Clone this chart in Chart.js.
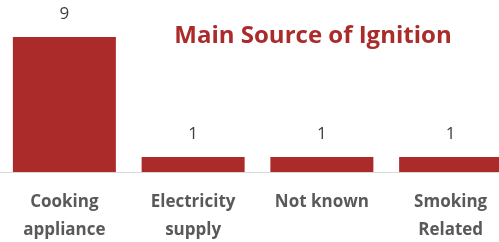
<!DOCTYPE html>
<html>
<head>
<meta charset="utf-8">
<script src="https://cdn.jsdelivr.net/npm/chart.js@4"></script>
<style>
  html, body { margin: 0; padding: 0; background: #fff; }
  #wrap { position: relative; width: 499px; height: 242px; overflow: hidden; }
  #box { position: absolute; left: 0; top: 0; width: 515px; height: 242px; }
  #title {
    position: absolute; left: 163px; top: 17px; width: 300px; text-align: center;
    font: bold 24px "Open Sans", sans-serif; color: #ab2a2a; white-space: nowrap;
  }
</style>
</head>
<body>
<div id="wrap">
  <div id="box"><canvas id="chart" width="515" height="242"></canvas></div>
  <div id="title">Main Source of Ignition</div>
</div>
<script>
const categories = [['Cooking', 'appliance'], ['Electricity', 'supply'], 'Not known', ['Smoking', 'Related']];
const counts = [9, 1, 1, 1];

const barColor = '#ab2a2a';

// draws the number above each bar
const valueLabels = {
  id: 'valueLabels',
  afterDatasetsDraw(chart) {
    const ctx = chart.ctx;
    const meta = chart.getDatasetMeta(0);
    ctx.save();
    ctx.font = '17px "Open Sans", sans-serif';
    ctx.fillStyle = '#404040';
    ctx.textAlign = 'center';
    ctx.textBaseline = 'middle';
    meta.data.forEach((bar, i) => {
      ctx.fillText(String(counts[i]), bar.x, bar.y - 23);
    });
    ctx.restore();
  }
};

new Chart(document.getElementById('chart'), {
  type: 'bar',
  data: {
    labels: categories,
    datasets: [{
      data: counts,
      backgroundColor: barColor,
      borderWidth: 0,
      categoryPercentage: 0.8,
      barPercentage: 1.0
    }]
  },
  options: {
    responsive: false,
    animation: false,
    layout: { padding: { top: 22, left: 0, right: 0, bottom: 0 } },
    plugins: {
      legend: { display: false },
      title: { display: false },
      tooltip: { enabled: false }
    },
    scales: {
      x: {
        grid: { display: false, drawTicks: false },
        border: { display: true, color: '#d9d9d9', width: 1 },
        ticks: {
          color: '#595959',
          font: { family: '"Open Sans", sans-serif', size: 17, weight: 'bold', lineHeight: 1.6 },
          padding: 17,
          maxRotation: 0,
          autoSkip: false
        },
        afterFit(scale) { scale.height = 70; }
      },
      y: {
        display: false,
        min: 0,
        max: 10
      }
    }
  },
  plugins: [valueLabels]
});
</script>
</body>
</html>
